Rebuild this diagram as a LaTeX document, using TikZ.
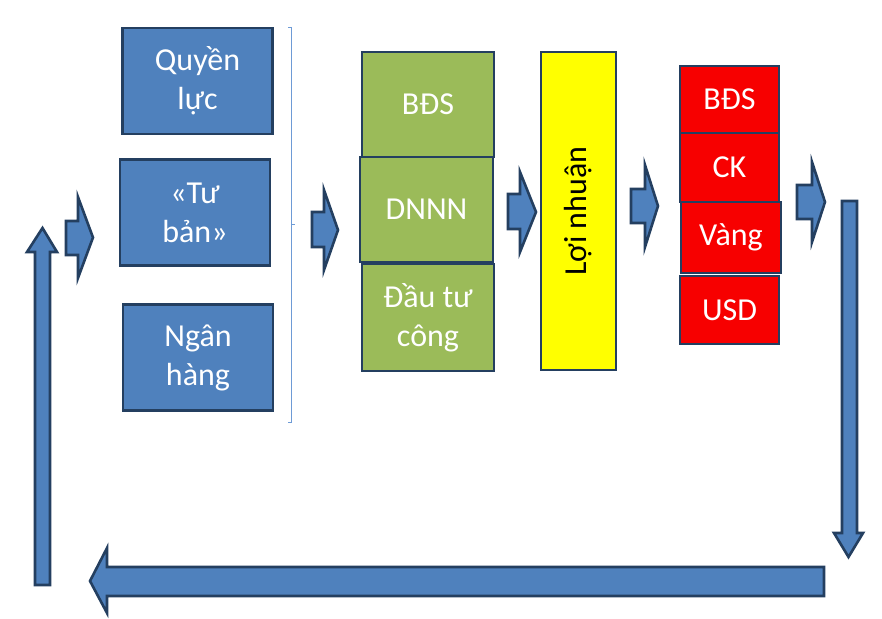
\documentclass[tikz,border=0pt]{standalone}
\usepackage{fontspec}
\setmainfont{Carlito}
\usepackage{tikz}
\usetikzlibrary{positioning}
\definecolor{edge}{HTML}{243F60}
\definecolor{cblue}{HTML}{4F81BD}
\definecolor{cgreen}{HTML}{9BBB59}
\definecolor{cyel}{HTML}{FFFF00}
\definecolor{cred}{HTML}{F70000}
\definecolor{brace}{HTML}{6E9BD6}

\begin{document}
\begin{tikzpicture}[x=1pt,y=-1pt,
  box/.style={draw=edge,line width=2.8pt,minimum width=#1,inner sep=0pt,
    align=center,text=white,font=\fontsize{32}{39}\selectfont},
  bbox/.style={box=150,fill=cblue,minimum height=106},
  gbox/.style={box=132,fill=cgreen,minimum height=105},
  rbox/.style={box=99,fill=cred,minimum height=68},
  barrow/.style={draw=edge,fill=cblue,line width=2.6pt,line join=miter}]
\useasboundingbox (0,0) rectangle (882,618);
% source boxes
\node[bbox] (power) at (197.5,81) {Quyền\\lực};
\node[bbox] (capital) at (195,212.5) {«Tư\\bản»};
\node[bbox] (bank) at (198,357.5) {Ngân\\hàng};
\draw[brace,line width=0.8pt] (288,27) -- (291,27) -- (291,224) -- (295,224)
  (291,224) -- (291,422) -- (288,422);
% sectors
\node[gbox] (realty) at (428,104.5) {BĐS};
\node[gbox,minimum width=133] (soe) at (426.5,209.5) {DNNN};
\node[gbox,minimum height=107] (invest) at (428,317.5) {Đầu tư\\công};
\node[box=318,fill=cyel,minimum height=75,text=black,rotate=90] (profit) at (578.5,211) {Lợi nhuận};
% assets
\node[rbox,minimum height=67] (realty2) at (729.5,99.5) {BĐS};
\node[rbox,minimum height=69] (stock) at (729.5,167.5) {CK};
\node[rbox,box=100,minimum height=71,fill=cred] (gold) at (731,237.5) {Vàng};
\node[rbox] (usd) at (729.5,310) {USD};
% block arrows
\draw[barrow] (66,221) -- (78,221) -- (78,197) -- (93,237.5) -- (78,278) -- (78,255) -- (66,255) -- cycle;
\draw[barrow] (312,212) -- (324,212) -- (324,190) -- (338,230) -- (324,270) -- (324,247) -- (312,247) -- cycle;
\draw[barrow] (508,194) -- (520,194) -- (520,172) -- (536,212) -- (520,252) -- (520,229) -- (508,229) -- cycle;
\draw[barrow] (631,189) -- (645,189) -- (645,165) -- (658,206) -- (645,247) -- (645,223) -- (631,223) -- cycle;
\draw[barrow] (797,185) -- (812,185) -- (812,162) -- (825,202) -- (812,242) -- (812,219) -- (797,219) -- cycle;
% loop back
\draw[barrow] (842,201) -- (857,201) -- (857,533) -- (863,533) -- (848.5,557) -- (834,533) -- (842,533) -- cycle;
\draw[barrow] (824,567) -- (824,596) -- (107,596) -- (107,613) -- (90,581) -- (107,548) -- (107,567) -- cycle;
\draw[barrow] (35,585) -- (35,252) -- (27,252) -- (42.5,228) -- (57,252) -- (50,252) -- (50,585) -- cycle;
\end{tikzpicture}
\end{document}
